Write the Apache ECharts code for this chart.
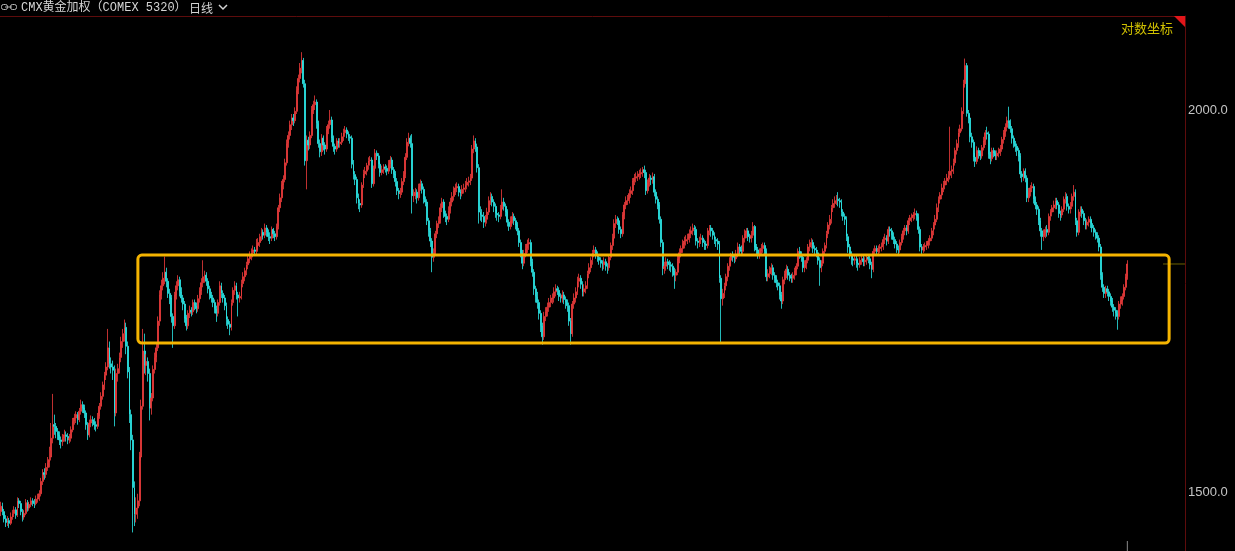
<!DOCTYPE html>
<html><head><meta charset="utf-8">
<script src="https://cdn.jsdelivr.net/npm/echarts@6/dist/echarts.min.js"></script>
<style>html,body{margin:0;padding:0;background:#000;overflow:hidden}#c{width:1235px;height:551px}</style>
</head><body><div id="c"></div>
<script>
const titleText = 'CMX黄金加权（COMEX 5320）';
const periodText = '日线';
const scaleText = '对数坐标';
const yTicks = [1500, 2000];
const yMin = 1434.8, yMax = 2146.7;
const boxTop = 1793, boxBottom = 1678, boxStart = 82, boxEnd = 699;
const emptySlots = 34;
// [open, close, low, high]
const d2019 = [
[1478,1484,1473,1489],[1484,1478,1474,1488],[1478,1470,1466,1481],[1470,1466,1461,1474],[1466,1468,1462,1473],
[1468,1465,1460,1471],[1465,1472,1463,1477],[1472,1476,1469,1480],[1476,1480,1472,1484],[1480,1474,1470,1483],
[1474,1490,1472,1494],[1490,1487,1482,1493],[1487,1478,1474,1490],[1478,1472,1467,1481],[1472,1476,1469,1480],
[1476,1488,1474,1492],[1488,1482,1478,1491],[1482,1486,1479,1489],[1486,1490,1483,1494],[1490,1488,1484,1493],
[1488,1487,1482,1492],[1487,1492,1485,1496],[1492,1494,1488,1498],[1494,1498,1490,1502],[1498,1512,1495,1516],
[1512,1522,1508,1526],[1522,1520,1514,1527]];
const d2020 = [
[1520,1528,1516,1533],[1528,1534,1524,1540],[1534,1537,1528,1552],[1540,1562,1536,1580],[1562,1578,1556,1615],
[1578,1576,1566,1590],[1576,1570,1562,1580],[1570,1566,1560,1574],[1566,1560,1554,1570],[1560,1558,1550,1564],
[1558,1562,1553,1567],[1562,1566,1558,1572],[1566,1564,1558,1570],[1564,1560,1555,1568],[1560,1562,1556,1567],
[1562,1572,1558,1576],[1572,1582,1569,1586],[1582,1586,1578,1591],[1586,1590,1580,1594],[1590,1584,1578,1593],
[1584,1594,1581,1598],[1594,1602,1590,1608],[1602,1598,1592,1606],[1598,1592,1586,1602],[1592,1578,1572,1595],
[1578,1566,1560,1581],[1566,1580,1563,1584],[1580,1584,1575,1589],[1584,1582,1576,1588],[1582,1578,1572,1586],
[1578,1576,1570,1582],[1576,1588,1573,1592],[1588,1600,1585,1604],[1600,1612,1596,1617],[1612,1626,1608,1630],
[1626,1638,1620,1642],[1638,1648,1632,1654],[1648,1672,1644,1696],[1672,1652,1646,1680],[1652,1648,1640,1660],
[1648,1644,1632,1656],[1644,1592,1576,1650],[1592,1640,1588,1646],[1640,1646,1630,1652],[1646,1660,1640,1666],
[1660,1680,1654,1686],[1680,1690,1672,1696],[1690,1698,1680,1708],[1698,1674,1664,1704],[1674,1642,1634,1680],
[1642,1590,1580,1648],[1590,1560,1548,1596],[1560,1505,1455,1566],[1505,1475,1462,1512],[1475,1482,1466,1494],
[1482,1490,1470,1498],[1490,1540,1484,1546],[1540,1600,1536,1608],[1600,1668,1596,1696],[1668,1650,1640,1690],
[1650,1655,1638,1664],[1655,1640,1630,1660],[1640,1598,1583,1646],[1598,1610,1590,1616],[1610,1645,1606,1650],
[1645,1660,1640,1666],[1660,1672,1654,1678],[1672,1706,1668,1712],[1706,1740,1700,1746],[1740,1752,1734,1760],
[1752,1762,1746,1770],[1762,1770,1754,1791],[1770,1758,1750,1776],[1758,1742,1736,1762],[1742,1736,1728,1748],
[1736,1712,1704,1740],[1712,1700,1672,1716],[1700,1740,1696,1744],[1740,1752,1734,1758],[1752,1760,1746,1766],
[1760,1744,1738,1764],[1744,1736,1730,1750],[1736,1728,1720,1740],[1728,1710,1704,1732],[1710,1700,1694,1714],
[1700,1716,1696,1720],[1716,1720,1710,1726],[1720,1718,1712,1724],[1718,1730,1714,1734],[1730,1726,1720,1734],
[1726,1722,1716,1730],[1722,1735,1718,1740],[1735,1745,1730,1750],[1745,1756,1740,1762],[1756,1764,1750,1786],
[1764,1766,1756,1772],[1766,1758,1752,1770],[1758,1748,1742,1762],[1748,1740,1734,1752],[1740,1736,1730,1744],
[1736,1730,1724,1740],[1730,1722,1716,1734],[1722,1716,1705,1726],[1716,1730,1712,1734],[1730,1752,1726,1758],
[1752,1742,1736,1756],[1742,1736,1730,1746],[1736,1726,1720,1740],[1726,1708,1700,1730],[1708,1702,1696,1712],
[1702,1698,1688,1706],[1698,1730,1694,1734],[1730,1746,1726,1750],[1746,1752,1740,1758],[1752,1740,1734,1756],
[1740,1736,1712,1744],[1736,1738,1730,1744],[1738,1755,1734,1760],[1755,1764,1750,1770],[1764,1772,1758,1776],
[1772,1780,1766,1784],[1780,1788,1774,1793],[1788,1792,1782,1798],[1792,1796,1786,1802],[1796,1800,1790,1806],
[1800,1798,1792,1804],[1798,1806,1794,1815],[1806,1810,1800,1816],[1810,1818,1804,1822],[1818,1824,1812,1830],
[1824,1820,1814,1828],[1820,1830,1816,1836],[1830,1824,1818,1834],[1824,1818,1812,1828],[1818,1816,1808,1824],
[1816,1828,1812,1832],[1828,1822,1816,1830],[1822,1818,1812,1826],[1818,1832,1814,1836],[1832,1858,1828,1862],
[1858,1872,1852,1878],[1872,1890,1866,1896],[1890,1898,1884,1904],[1898,1922,1894,1928],[1922,1950,1918,1956],
[1950,1962,1944,1968],[1962,1978,1956,1984],[1978,1988,1970,1994],[1988,1984,1976,1994],[1984,1998,1980,2004],
[1998,2030,1994,2036],[2030,2048,2024,2054],[2048,2064,2042,2072],[2064,2076,2056,2089],[2076,2040,2034,2080],
[2040,1925,1918,2046],[1925,1955,1884,1962],[1955,1948,1940,1960],[1948,1962,1942,1968],[1962,2000,1958,2006],
[2000,2008,1994,2014],[2008,2012,2000,2022],[2012,1980,1972,2016],[1980,1950,1944,1984],[1950,1938,1930,1956],
[1938,1958,1932,1964],[1958,1948,1940,1962],[1948,1942,1934,1952],[1942,1970,1938,1976],[1970,1978,1964,1984],
[1978,1985,1972,2000],[1985,1958,1952,1990],[1958,1946,1938,1962],[1946,1942,1934,1950],[1942,1954,1938,1958],
[1954,1950,1944,1958],[1950,1952,1944,1958],[1952,1960,1948,1966],[1960,1966,1954,1972],[1966,1970,1960,1976],
[1970,1964,1958,1974],[1964,1960,1954,1968],[1960,1958,1950,1964],[1958,1920,1914,1962],[1920,1905,1898,1926],
[1905,1898,1890,1910],[1898,1872,1864,1902],[1872,1864,1856,1878],[1864,1862,1852,1870],[1862,1890,1858,1894],
[1890,1906,1886,1912],[1906,1910,1900,1916],[1910,1918,1904,1922],[1918,1925,1912,1930],[1925,1926,1918,1932],
[1926,1892,1886,1930],[1892,1914,1888,1918],[1914,1936,1910,1942],[1936,1932,1926,1940],[1932,1920,1914,1936],
[1920,1908,1902,1924],[1908,1912,1904,1918],[1912,1916,1906,1920],[1916,1914,1908,1920],[1914,1910,1904,1918],
[1910,1920,1906,1926],[1920,1926,1914,1932],[1926,1912,1906,1930],[1912,1906,1900,1916],[1906,1895,1888,1910],
[1895,1882,1876,1900],[1882,1878,1870,1886],[1878,1880,1872,1886],[1880,1895,1876,1900],[1895,1905,1890,1910],
[1905,1930,1900,1936],[1930,1952,1926,1958],[1952,1958,1946,1966],[1958,1950,1944,1962],[1950,1875,1850,1964],
[1875,1876,1866,1884],[1876,1880,1870,1886],[1880,1872,1864,1884],[1872,1888,1868,1892],[1888,1892,1882,1898],
[1892,1884,1878,1896],[1884,1870,1864,1888],[1870,1866,1860,1874],[1866,1840,1834,1870],[1840,1826,1818,1844],
[1826,1812,1804,1830],[1812,1790,1770,1816],[1790,1796,1784,1802],[1796,1822,1792,1826],[1822,1836,1816,1840],
[1836,1840,1830,1846],[1840,1858,1836,1864],[1858,1866,1852,1872],[1866,1850,1844,1870],[1850,1846,1838,1854],
[1846,1842,1834,1850],[1842,1854,1838,1860],[1854,1866,1850,1872],[1866,1874,1860,1880],[1874,1882,1868,1888],
[1882,1886,1876,1892],[1886,1888,1880,1894],[1888,1880,1874,1892],[1880,1878,1870,1884],[1878,1884,1874,1890],
[1884,1886,1878,1892],[1886,1890,1880,1896],[1890,1894,1884,1900]];
const d2021 = [
[1894,1896,1888,1902],[1896,1900,1890,1906],[1900,1942,1896,1948],[1942,1954,1936,1962],[1954,1945,1938,1958],
[1945,1915,1908,1950],[1915,1852,1836,1920],[1852,1848,1840,1860],[1848,1846,1838,1856],[1846,1838,1830,1852],
[1838,1842,1832,1848],[1842,1852,1836,1858],[1852,1868,1848,1874],[1868,1874,1862,1880],[1874,1866,1860,1878],
[1866,1860,1852,1870],[1860,1850,1844,1864],[1850,1848,1840,1856],[1848,1846,1838,1852],[1846,1856,1842,1862],
[1856,1866,1852,1884],[1866,1860,1854,1872],[1860,1852,1846,1864],[1852,1838,1832,1856],[1838,1832,1826,1842],
[1832,1840,1828,1846],[1840,1846,1836,1852],[1846,1840,1834,1850],[1840,1834,1828,1844],[1834,1826,1820,1838],
[1826,1810,1804,1830],[1810,1796,1790,1814],[1796,1782,1774,1800],[1782,1795,1778,1800],[1795,1802,1790,1808],
[1802,1808,1796,1814],[1808,1810,1800,1816],[1810,1784,1778,1814],[1784,1770,1764,1788],[1770,1748,1740,1774],
[1748,1738,1730,1752],[1738,1730,1722,1744],[1730,1716,1708,1734],[1716,1700,1692,1720],[1700,1686,1676,1704],
[1686,1712,1682,1718],[1712,1718,1706,1724],[1718,1724,1712,1730],[1724,1730,1718,1736],[1730,1734,1724,1740],
[1734,1736,1728,1742],[1736,1744,1730,1750],[1744,1748,1738,1754],[1748,1746,1740,1752],[1746,1738,1732,1750],
[1738,1736,1730,1742],[1736,1740,1730,1746],[1740,1734,1728,1744],[1734,1730,1722,1738],[1730,1726,1718,1734],
[1726,1706,1700,1730],[1706,1690,1676,1710],[1690,1728,1686,1732],[1728,1736,1722,1742],[1736,1744,1730,1750],
[1744,1758,1740,1764],[1758,1762,1750,1768],[1762,1754,1748,1766],[1754,1744,1738,1758],[1744,1748,1738,1754],
[1748,1752,1742,1758],[1752,1768,1748,1772],[1768,1776,1762,1782],[1776,1786,1770,1790],[1786,1796,1780,1800],
[1796,1800,1790,1806],[1800,1794,1788,1804],[1794,1790,1784,1798],[1790,1786,1780,1794],[1786,1782,1776,1790],
[1782,1780,1772,1786],[1780,1784,1774,1790],[1784,1778,1772,1788],[1778,1776,1768,1782],[1776,1790,1772,1794],
[1790,1806,1786,1810],[1806,1816,1800,1822],[1816,1836,1812,1842],[1836,1842,1830,1848],[1842,1840,1834,1846],
[1840,1828,1822,1844],[1828,1822,1816,1832],[1822,1848,1818,1852],[1848,1862,1842,1866],[1862,1868,1856,1874],
[1868,1870,1862,1876],[1870,1878,1864,1884],[1878,1882,1872,1888],[1882,1896,1876,1900],[1896,1900,1890,1906],
[1900,1902,1894,1908],[1902,1904,1896,1910],[1904,1906,1898,1912],[1906,1908,1900,1914],[1908,1912,1902,1916],
[1912,1908,1900,1918],[1908,1882,1876,1912],[1882,1894,1878,1898],[1894,1900,1888,1906],[1900,1898,1890,1904],
[1898,1902,1892,1908],[1902,1880,1874,1906],[1880,1870,1864,1884],[1870,1862,1856,1874],[1862,1842,1836,1866],
[1842,1810,1804,1846],[1810,1775,1766,1814],[1775,1778,1768,1784],[1778,1784,1772,1790],[1784,1782,1774,1788],
[1782,1780,1772,1786],[1780,1778,1770,1784],[1778,1772,1764,1782],[1772,1766,1748,1776],[1766,1770,1758,1774],
[1770,1788,1766,1792],[1788,1796,1782,1802],[1796,1802,1790,1806],[1802,1808,1796,1814],[1808,1812,1802,1818],
[1812,1814,1806,1820],[1814,1816,1808,1822],[1816,1822,1810,1828],[1822,1826,1816,1832],[1826,1830,1820,1836],
[1830,1828,1820,1834],[1828,1812,1806,1832],[1812,1810,1802,1816],[1810,1814,1804,1818],[1814,1816,1808,1822],
[1816,1810,1804,1820],[1810,1808,1800,1814],[1808,1806,1800,1812],[1806,1826,1802,1830],[1826,1830,1820,1834],
[1830,1826,1818,1834],[1826,1820,1814,1830],[1820,1814,1808,1824],[1814,1812,1804,1818],[1812,1808,1800,1816],
[1808,1762,1756,1812],[1762,1735,1677,1766],[1735,1742,1726,1748],[1742,1752,1736,1756],[1752,1764,1746,1768],
[1764,1778,1758,1782],[1778,1786,1772,1790],[1786,1792,1780,1796],[1792,1790,1784,1798],[1790,1788,1782,1794],
[1788,1794,1784,1800],[1794,1804,1790,1810],[1804,1800,1794,1808],[1800,1798,1792,1806],[1798,1816,1794,1820],
[1816,1822,1810,1828],[1822,1826,1816,1830],[1826,1818,1812,1830],[1818,1816,1810,1822],[1816,1820,1810,1826],
[1820,1832,1816,1838],[1832,1804,1798,1834],[1804,1800,1794,1808],[1800,1794,1788,1804],[1794,1798,1788,1802],
[1798,1802,1794,1808],[1802,1806,1796,1810],[1806,1798,1792,1810],[1798,1764,1758,1802],[1764,1768,1758,1774],
[1768,1772,1762,1778],[1772,1776,1766,1782],[1776,1766,1760,1780],[1766,1762,1756,1770],[1762,1756,1750,1766],
[1756,1752,1746,1760],[1752,1740,1734,1756],[1740,1732,1722,1744],[1732,1760,1728,1764],[1760,1768,1754,1772],
[1768,1774,1762,1780],[1774,1766,1760,1778],[1766,1764,1758,1770],[1764,1762,1756,1768],[1762,1766,1756,1770],
[1766,1772,1760,1776],[1772,1778,1766,1782],[1778,1798,1774,1802],[1798,1794,1788,1804],[1794,1790,1784,1798],
[1790,1776,1770,1794],[1776,1780,1770,1786],[1780,1786,1774,1790],[1786,1804,1782,1808],[1804,1808,1798,1814],
[1808,1810,1802,1816],[1810,1802,1796,1814],[1802,1800,1794,1806],[1800,1796,1790,1804],[1796,1786,1780,1800],
[1786,1776,1752,1790],[1776,1782,1770,1786],[1782,1798,1778,1802],[1798,1806,1792,1810],[1806,1822,1802,1826],
[1822,1834,1816,1838],[1834,1842,1828,1848],[1842,1858,1836,1862],[1858,1864,1852,1870],[1864,1868,1858,1874],
[1868,1870,1862,1876],[1870,1868,1860,1880],[1868,1866,1858,1872],[1866,1852,1846,1870],[1852,1846,1840,1856],
[1846,1842,1834,1850],[1842,1818,1812,1846],[1818,1804,1796,1822],[1804,1794,1788,1808],[1794,1788,1780,1798],
[1788,1786,1778,1792],[1786,1788,1780,1794],[1788,1782,1776,1792],[1782,1780,1772,1786],[1780,1786,1776,1790],
[1786,1788,1780,1794],[1788,1784,1778,1792],[1784,1786,1778,1790],[1786,1790,1780,1794],[1790,1788,1782,1794],
[1788,1780,1774,1792],[1780,1774,1762,1784],[1774,1798,1770,1802],[1798,1802,1792,1806],[1802,1798,1792,1806],
[1798,1802,1794,1806],[1802,1804,1796,1808],[1804,1806,1798,1810],[1806,1814,1800,1818],[1814,1816,1808,1822],
[1816,1812,1806,1820],[1812,1828,1808,1832]];
const d2022 = [
[1828,1826,1818,1832],[1826,1820,1814,1830],[1820,1814,1808,1824],[1814,1808,1802,1818],[1808,1802,1796,1812],
[1802,1800,1792,1806],[1800,1810,1796,1814],[1810,1818,1806,1822],[1818,1826,1814,1830],[1826,1830,1820,1834],
[1830,1826,1820,1834],[1826,1840,1822,1844],[1840,1844,1834,1848],[1844,1846,1838,1850],[1846,1848,1840,1852],
[1848,1850,1842,1857],[1850,1846,1840,1854],[1846,1828,1822,1850],[1828,1804,1798,1832],[1804,1800,1792,1808],
[1800,1804,1796,1808],[1804,1806,1798,1810],[1806,1808,1800,1812],[1808,1812,1802,1816],[1812,1816,1806,1820],
[1816,1826,1812,1830],[1826,1834,1820,1838],[1834,1842,1828,1848],[1842,1858,1838,1864],[1858,1870,1852,1874],
[1870,1876,1864,1880],[1876,1886,1870,1892],[1886,1890,1880,1896],[1890,1896,1884,1900],[1896,1900,1890,1906],
[1900,1904,1894,1910],[1904,1910,1898,1975],[1910,1912,1900,1918],[1912,1922,1906,1928],[1922,1940,1918,1944],
[1940,1950,1934,1956],[1950,1966,1944,1972],[1966,1972,1960,1978],[1972,1998,1968,2004],[1998,2040,1994,2046],
[2040,2068,2034,2079],[2068,1995,1990,2072],[1995,1988,1980,2000],[1988,1960,1952,1992],[1960,1952,1944,1966],
[1952,1930,1924,1956],[1930,1924,1916,1936],[1924,1940,1920,1946],[1940,1936,1928,1944],[1936,1932,1926,1940],
[1932,1944,1928,1948],[1944,1954,1940,1960],[1954,1966,1948,1970],[1966,1964,1956,1975],[1964,1934,1928,1968],
[1934,1928,1920,1938],[1928,1940,1924,1944],[1940,1936,1930,1944],[1936,1932,1926,1940],[1932,1936,1926,1940],
[1936,1938,1930,1944],[1938,1942,1932,1948],[1942,1956,1938,1960],[1956,1966,1950,1970],[1966,1974,1960,1980],
[1974,1984,1968,1990],[1984,1980,1972,2005],[1980,1972,1966,1986],[1972,1958,1950,1976],[1958,1950,1944,1962],
[1950,1946,1938,1954],[1946,1940,1932,1950],[1940,1932,1924,1944],[1932,1906,1900,1936],[1906,1902,1894,1910],
[1902,1910,1896,1914],[1910,1900,1894,1914],[1900,1872,1866,1904],[1872,1880,1866,1886],[1880,1886,1874,1890],
[1886,1888,1880,1894],[1888,1870,1864,1892],[1870,1862,1856,1874],[1862,1856,1848,1866],[1856,1840,1834,1860],
[1840,1826,1818,1844],[1826,1818,1800,1830],[1818,1822,1812,1828],[1822,1828,1816,1832],[1828,1824,1818,1834],
[1824,1846,1820,1850],[1846,1852,1840,1856],[1852,1858,1846,1862],[1858,1862,1852,1868],[1862,1868,1856,1872],
[1868,1862,1856,1872],[1862,1850,1844,1866],[1850,1848,1840,1854],[1848,1856,1844,1860],[1856,1870,1852,1874],
[1870,1874,1864,1880],[1874,1860,1854,1878],[1860,1856,1850,1864],[1856,1860,1850,1866],[1860,1874,1856,1878],
[1874,1880,1868,1890],[1880,1840,1834,1884],[1840,1824,1818,1844],[1824,1852,1820,1856],[1852,1856,1846,1860],
[1856,1850,1844,1860],[1850,1840,1834,1854],[1840,1834,1828,1844],[1834,1838,1828,1842],[1838,1842,1832,1846],
[1842,1836,1830,1846],[1836,1830,1824,1840],[1830,1824,1818,1834],[1824,1820,1814,1828],[1820,1816,1810,1824],
[1816,1804,1798,1820],[1804,1766,1760,1808],[1766,1750,1744,1770],[1750,1742,1736,1754],[1742,1748,1736,1752],
[1748,1744,1738,1752],[1744,1738,1732,1748],[1738,1732,1726,1742],[1732,1724,1718,1736],[1724,1720,1712,1728],
[1720,1716,1708,1724],[1716,1712,1695,1720],[1712,1728,1708,1732],[1728,1732,1722,1738],[1732,1738,1726,1742],
[1738,1750,1734,1754],[1750,1764,1746,1768],[1764,1781,1760,1786]];

const candles = d2019.concat(d2020, d2021, d2022);
const categories = [];
for (let i = 0; i < candles.length + emptySlots; i++) categories.push(String(i));

const UP = '#f03c3c', DOWN = '#2ce8e8';
const chart = echarts.init(document.getElementById('c'), null, {renderer: 'canvas'});
chart.setOption({
  backgroundColor: '#000',
  animation: false,
  grid: {left: 0, right: 50, top: 16, bottom: 0},
  xAxis: {type: 'category', data: categories, boundaryGap: true, show: false},
  yAxis: {
    type: 'log', logBase: 10, position: 'right', min: yMin, max: yMax,
    axisLine: {show: true, lineStyle: {color: '#5e0c0c', width: 1}},
    axisTick: {show: false},
    splitLine: {show: false},
    axisLabel: {
      customValues: yTicks,
      formatter: v => Number(v).toFixed(1),
      color: '#c4c4c4', fontSize: 13, fontFamily: '"Liberation Sans", Arial, sans-serif', margin: 3
    }
  },
  series: [{
    type: 'candlestick', data: candles, large: false, barWidth: 1.4,
    itemStyle: {color: UP, color0: DOWN, borderColor: UP, borderColor0: DOWN, borderWidth: 0.8}
  }]
});

const xPix = i => chart.convertToPixel({xAxisIndex: 0}, i);
const yPix = v => chart.convertToPixel({yAxisIndex: 0}, v);
const lastIdx = candles.length - 1;
const lastClose = candles[lastIdx][1];
const gridRight = 1185;
const bx1 = xPix(boxStart), bx2 = xPix(boxEnd), by1 = yPix(boxTop), by2 = yPix(boxBottom);
const yl = yPix(lastClose);
const xl = xPix(lastIdx);

chart.setOption({
  graphic: [
    {type: 'line', shape: {x1: 0, y1: 16.5, x2: gridRight, y2: 16.5}, style: {stroke: '#5e0c0c', lineWidth: 1}, silent: true},
    {type: 'polygon', shape: {points: [[gridRight - 11, 16], [gridRight, 16], [gridRight, 27]]}, style: {fill: '#e2161a'}, silent: true},
    {type: 'rect', shape: {x: bx1, y: by1, width: bx2 - bx1, height: by2 - by1, r: 4}, style: {fill: 'none', stroke: '#f5b400', lineWidth: 3}, silent: true, z: 100},
    {type: 'line', shape: {x1: gridRight - 22, y1: yl, x2: gridRight, y2: yl}, style: {stroke: '#6e6200', lineWidth: 1}, silent: true},
    {type: 'line', shape: {x1: xl, y1: 541, x2: xl, y2: 551}, style: {stroke: '#8a8a8a', lineWidth: 1}, silent: true},
    {type: 'rect', shape: {x: 1.5, y: 4.5, width: 6, height: 5, r: 2}, style: {fill: 'none', stroke: '#b8b8b8', lineWidth: 1}, silent: true},
    {type: 'line', shape: {x1: 5, y1: 7, x2: 12, y2: 7}, style: {stroke: '#b8b8b8', lineWidth: 1}, silent: true},
    {type: 'rect', shape: {x: 10.5, y: 4.5, width: 6, height: 5, r: 2}, style: {fill: 'none', stroke: '#b8b8b8', lineWidth: 1}, silent: true},
    {type: 'text', x: 21, y: 8, style: {text: titleText, fill: '#d4d4d4', font: '12px "Liberation Mono", "Noto Sans CJK SC", monospace', verticalAlign: 'middle'}, silent: true},
    {type: 'text', x: 189, y: 8, style: {text: periodText, fill: '#d4d4d4', font: '12px "Noto Sans CJK SC", sans-serif', verticalAlign: 'middle'}, silent: true},
    {type: 'polyline', shape: {points: [[219, 5], [223, 9], [227, 5]]}, style: {stroke: '#d4d4d4', lineWidth: 1.5, fill: 'none'}, silent: true},
    {type: 'text', x: 1173, y: 28, style: {text: scaleText, fill: '#d0c000', font: '13px "Noto Sans CJK SC", sans-serif', align: 'right', verticalAlign: 'middle'}, silent: true}
  ]
});
</script>
</body></html>
